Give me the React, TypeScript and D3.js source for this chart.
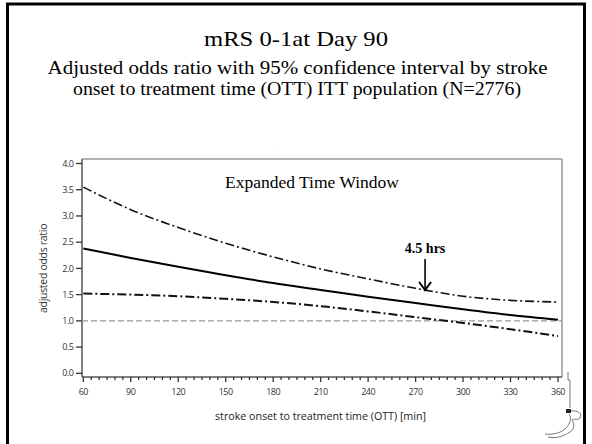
import React from "react";
import { scaleLinear, line, curveMonotoneX, range } from "d3";

const times = [60, 90, 120, 150, 180, 210, 240, 270, 300, 330, 360];
const oddsRatio = [2.38, 2.2, 2.03, 1.87, 1.72, 1.59, 1.46, 1.34, 1.22, 1.11, 1.02];
const upperCI = [3.55, 3.12, 2.78, 2.48, 2.22, 1.99, 1.8, 1.62, 1.47, 1.39, 1.36];
const lowerCI = [1.52, 1.5, 1.47, 1.42, 1.36, 1.28, 1.18, 1.07, 0.96, 0.84, 0.71];
const yTicks = [0, 0.5, 1, 1.5, 2, 2.5, 3, 3.5, 4];
const xTicks = [60, 90, 120, 150, 180, 210, 240, 270, 300, 330, 360];

const W = 592;
const H = 444;

const plot = { left: 82, right: 562, top: 159, bottom: 377 };

const serif = "'Liberation Serif', 'Times New Roman', serif";
const sans = "'Open Sans', 'DejaVu Sans', sans-serif";

const App = () => {
  const xScale = scaleLinear().domain([60, 360]).range([83.3, 558]);
  const yScale = scaleLinear().domain([0, 4]).range([373.3, 163.5]);

  const makeLine = (vals: number[]) =>
    line<number>()
      .x((_, i) => xScale(times[i]))
      .y((d) => yScale(d))
      .curve(curveMonotoneX)(vals) as string;

  const minorTicks = range(60, 361, 5);
  const arrowX = xScale(276);

  return (
    <svg
      width={W}
      height={H}
      style={{ position: "absolute", left: 0, top: 0, background: "#fff" }}
    >
      {/* slide frame */}
      <rect x={7.5} y={4} width={577} height={460} fill="none" stroke="#000" strokeWidth={3} />

      <text
        x={296}
        y={46}
        textAnchor="middle"
        fontFamily={serif}
        fontSize={22}
        textLength={184}
        lengthAdjust="spacingAndGlyphs"
      >
        mRS 0-1at Day 90
      </text>
      <text
        x={297.5}
        y={74}
        textAnchor="middle"
        fontFamily={serif}
        fontSize={18.5}
        textLength={500}
        lengthAdjust="spacingAndGlyphs"
      >
        Adjusted odds ratio with 95% confidence interval by stroke
      </text>
      <text
        x={297}
        y={95}
        textAnchor="middle"
        fontFamily={serif}
        fontSize={18.5}
        textLength={448}
        lengthAdjust="spacingAndGlyphs"
      >
        onset to treatment time (OTT) ITT population (N=2776)
      </text>

      {/* plot frame */}
      <line x1={plot.left} x2={plot.right} y1={plot.top} y2={plot.top} stroke="#999" strokeWidth={1.5} />
      <line x1={plot.right} x2={plot.right} y1={plot.top} y2={plot.bottom} stroke="#999" strokeWidth={1.5} />
      <line x1={plot.left} x2={plot.left} y1={plot.top} y2={plot.bottom} stroke="#555" strokeWidth={1.5} />
      <line x1={plot.left} x2={plot.right} y1={plot.bottom} y2={plot.bottom} stroke="#555" strokeWidth={1.5} />
      <text x={275} y={153} fontSize={4} fill="#999">
        ·  ·
      </text>

      {/* y axis */}
      {yTicks.map((t) => (
        <g key={t} transform={`translate(0,${yScale(t)})`}>
          <line x1={76} x2={plot.left} stroke="#333" strokeWidth={1.3} />
          <text
            x={73.5}
            dy="0.35em"
            textAnchor="end"
            fontFamily={sans}
            fontSize={9}
            fill="#333"
            letterSpacing={-0.5}
          >
            {t.toFixed(1)}
          </text>
        </g>
      ))}
      <text
        transform={`translate(47,${yScale(2)}) rotate(-90)`}
        textAnchor="middle"
        fontFamily={sans}
        fontSize={10.5}
        fill="#333"
        letterSpacing={-0.3}
      >
        adjusted odds ratio
      </text>

      {/* x axis */}
      {minorTicks.map((t) => (
        <line
          key={t}
          x1={xScale(t)}
          x2={xScale(t)}
          y1={plot.bottom}
          y2={plot.bottom + (t % 30 === 0 ? 5 : 3)}
          stroke="#333"
          strokeWidth={1.3}
        />
      ))}
      {xTicks.map((t) => (
        <text
          key={t}
          x={xScale(t)}
          y={395}
          textAnchor="middle"
          fontFamily={sans}
          fontSize={9}
          fill="#333"
          letterSpacing={-0.5}
        >
          {t}
        </text>
      ))}
      <text
        x={320.5}
        y={420}
        textAnchor="middle"
        fontFamily={sans}
        fontSize={11}
        fill="#222"
        textLength={211}
        lengthAdjust="spacingAndGlyphs"
      >
        stroke onset to treatment time (OTT) [min]
      </text>

      {/* reference line */}
      <line
        x1={plot.left}
        x2={plot.right}
        y1={yScale(1)}
        y2={yScale(1)}
        stroke="#999"
        strokeWidth={1.3}
        strokeDasharray="6 3"
      />

      {/* curves */}
      <path d={makeLine(upperCI)} fill="none" stroke="#111" strokeWidth={1.6} strokeDasharray="9 3 2 3" />
      <path d={makeLine(lowerCI)} fill="none" stroke="#111" strokeWidth={2} strokeDasharray="9 3 2 3" />
      <path d={makeLine(oddsRatio)} fill="none" stroke="#000" strokeWidth={2} />

      <text x={312} y={188} textAnchor="middle" fontFamily={serif} fontSize={17.5}>
        Expanded Time Window
      </text>

      <text x={arrowX} y={253} textAnchor="middle" fontFamily={serif} fontSize={14} fontWeight="bold">
        4.5 hrs
      </text>
      <line x1={arrowX} x2={arrowX} y1={259} y2={289} stroke="#000" strokeWidth={1.6} />
      <path
        d={`M${arrowX - 6},${282} L${arrowX},${290} L${arrowX + 6},${282}`}
        fill="none"
        stroke="#000"
        strokeWidth={2}
      />

      {/* small logo mark at the corner */}
      <g fill="none" stroke="#555" strokeWidth={0.8}>
        <path d="M568,372 L568,380 L570,380 L570,408" />
        <rect x={566} y={409} width={5} height={4} fill="#222" stroke="none" />
        <path d="M571,411 C578,410 583,414 580,418 C577,421 574,418 572,420 C575,425 574,430 570,432 C564,436 556,439 548,437" />
        <path d="M569,414 C572,418 570,424 566,428 C561,433 553,435 545,434" />
      </g>
    </svg>
  );
};

export default App;
